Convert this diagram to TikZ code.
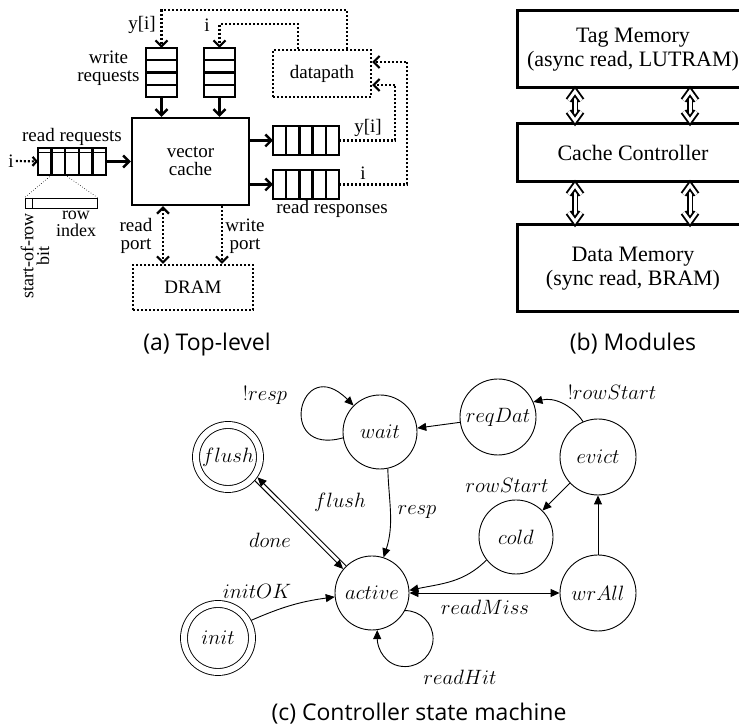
\documentclass[tikz,border=0pt]{standalone}
\usepackage{fontspec}
\setmainfont{Liberation Serif}
\newfontfamily\capfont{Open Sans}
\usetikzlibrary{arrows.meta,calc}

\begin{document}
\begin{tikzpicture}[x=1pt,y=1pt,
  thk/.style={line width=2.4pt},
  dotl/.style={line width=2.2pt, dash pattern=on 2pt off 2pt},
  barbend/.style={-{Straight Barb[length=6pt,width=12pt]}},
  barbboth/.style={{Straight Barb[length=6pt,width=12pt]}-{Straight Barb[length=6pt,width=12pt]}},
  lbl/.style={font=\fontsize{19}{18}\selectfont, inner sep=0pt, align=center},
  smalllbl/.style={font=\fontsize{18}{16}\selectfont, inner sep=0pt, align=center},
  queue/.style={draw, thk, inner sep=0pt, outer sep=0pt},
  box/.style={draw, thk, inner sep=0pt},
  dotbox/.style={draw, dotl, inner sep=0pt},
  modbox/.style={draw, line width=3pt, minimum width=232pt, inner sep=0pt, align=center,
                 font=\fontsize{22}{24}\selectfont},
  dblline/.style={double, double distance=3pt, line width=1.9pt},
  dblhead/.style={dblline, line join=miter, line cap=butt},
  state/.style={circle, draw, line width=0.9pt, minimum size=74pt, inner sep=0pt,
                font=\fontsize{21}{25}\selectfont},
  accept/.style={state, double, double distance=6pt, outer sep=3.5pt},
  tr/.style={line width=0.9pt, -{Triangle[length=9pt,width=8pt]}},
  trboth/.style={line width=0.9pt, {Triangle[length=9pt,width=8pt]}-{Triangle[length=9pt,width=8pt]}},
  elbl/.style={font=\fontsize{21}{25}\selectfont, inner sep=0pt},
  caption/.style={font=\capfont\fontsize{23}{27}\selectfont, inner sep=0pt, anchor=base}
]
\useasboundingbox (0,0) rectangle (739,727);

% ---------- (a) top-level ----------
\node[box, lbl, minimum width=117pt, minimum height=87pt] (cache) at (190.5,565.5) {vector\\cache};

% write request queues
\node[queue, minimum width=31pt, minimum height=49pt] (wq1) at (161.5,654.5) {};
\node[queue, minimum width=31pt, minimum height=49pt] (wq2) at (219.5,654.5) {};
\foreach \q in {wq1,wq2}
  \foreach \k in {1,2,3}
    \draw[thk] ($(\q.south west)!\k/4!(\q.north west)$) -- ($(\q.south east)!\k/4!(\q.north east)$);
\draw[thk,barbend] (wq1.south) -- (wq1.south |- cache.north);
\draw[thk,barbend] (wq2.south) -- (wq2.south |- cache.north);
\node[lbl] (wrlbl) at (108.5,659) {write\\requests};

% read request queue
\node[queue, minimum width=68pt, minimum height=27pt] (rq) at (72,565.5) {};
\foreach \k in {1,2,3,4}
  \draw[thk] ($(rq.south west)!\k/5!(rq.south east)$) -- ($(rq.north west)!\k/5!(rq.north east)$);
\draw[line width=0.7pt] ($(rq.north west)+(0,-4)$) -- ($(rq.north east)+(0,-4)$);
\draw[thk,barbend] (rq.east) -- (cache.west |- rq.east);
\node[lbl] (rdlbl) at (72,590) {read requests};
\node[lbl] (inrq) at (11,566) {i};
\draw[dotl,-{Straight Barb[length=4pt,width=9pt]}] ([xshift=2pt]inrq.east) -- (rq.west);

% request entry format
\node[draw, line width=0.8pt, minimum width=72pt, minimum height=10pt, inner sep=0pt] (bar) at (61,524) {};
\draw[line width=0.8pt] ($(bar.north west)+(8,0)$) -- ($(bar.south west)+(8,0)$);
\draw[line width=0.6pt, dotted] ($(rq.south west)!0.2!(rq.south east)$) -- (bar.north west);
\draw[line width=0.6pt, dotted] ($(rq.south west)!0.4!(rq.south east)$) -- (bar.north east);
\node[smalllbl, font=\fontsize{18}{17}\selectfont] (rowidx) at (76,503) {row\\index};
\node[smalllbl, rotate=90] (sorb) at (35,471) {start-of-row\\bit};

% read response queues
\node[queue, minimum width=66pt, minimum height=29pt] (rr1) at (306,586.5) {};
\node[queue, minimum width=66pt, minimum height=29pt] (rr2) at (306,542.5) {};
\foreach \q in {rr1,rr2}
  \foreach \k in {1,2,3,4}
    \draw[thk] ($(\q.south west)!\k/5!(\q.south east)$) -- ($(\q.north west)!\k/5!(\q.north east)$);
\draw[thk,barbend] (cache.east |- rr1.west) -- (rr1.west);
\draw[thk,barbend] (cache.east |- rr2.west) -- (rr2.west);
\node[lbl] (rresp) at (332,518) {read responses};

% datapath and its feedback paths
\node[dotbox, lbl, minimum width=98pt, minimum height=47pt] (dp) at (322,653.5) {datapath};
\coordinate (yiTurn) at (161.5,717);
\coordinate (iTurn) at (219.5,703);
\draw[dotl,barbend] ([xshift=25pt]dp.north) |- (yiTurn) -- (wq1.north);
\draw[dotl,barbend] ([xshift=-24pt]dp.north) |- (iTurn) -- (wq2.north);
\node[lbl] (yiw) at (142,702) {y[i]};
\node[lbl] (iw) at (207,702) {i};
\coordinate (r1Turn) at (395,586.5);
\coordinate (r2Turn) at (407,542.5);
\draw[dotl,barbend] (rr1.east) -- (r1Turn) |- ([yshift=-11.5pt]dp.east);
\draw[dotl,barbend] (rr2.east) -- (r2Turn) |- ([yshift=11.5pt]dp.east);
\node[lbl] (yir) at (368,599) {y[i]};
\node[lbl] (ir) at (363,554) {i};

% DRAM ports
\node[dotbox, lbl, minimum width=120pt, minimum height=45pt] (dram) at (193,439.5) {DRAM};
\coordinate (rpTop) at ([xshift=-27.5pt]cache.south);
\coordinate (wpTop) at ([xshift=31.5pt]cache.south);
\draw[dotl,barbboth] (rpTop) -- (rpTop |- dram.north);
\draw[dotl,barbend] (wpTop) -- (wpTop |- dram.north);
\node[lbl] (rplbl) at (136,491) {read\\port};
\node[lbl] (wplbl) at (245,491) {write\\port};

\node[caption] (capa) at (207,376) {(a) Top-level};

% ---------- (b) modules ----------
\node[modbox, minimum height=77pt] (tag) at (633,677.5) {Tag Memory\\(async read, LUTRAM)};
\node[modbox, minimum height=58pt] (ctrl) at (633,574) {Cache Controller};
\node[modbox, minimum height=87pt] (dmem) at (633,458.5) {Data Memory\\(sync read, BRAM)};
% two-way double-line links with open heads
\foreach \dx in {-58,57} {
  \foreach \upper/\lower in {tag/ctrl, ctrl/dmem} {
    \coordinate (hu) at ([xshift=\dx pt, yshift=-2pt]\upper.south);
    \coordinate (hl) at ([xshift=\dx pt, yshift=2pt]\lower.north);
    \draw[dblline] ([yshift=-3pt]hu) -- ([yshift=3pt]hl);
    \draw[dblhead] ($(hu)+(-6.5,-9)$) -- (hu) -- ($(hu)+(6.5,-9)$);
    \draw[dblhead] ($(hl)+(-6.5,9)$) -- (hl) -- ($(hl)+(6.5,9)$);
  }
}

\node[caption] (capb) at (633,376) {(b) Modules};

% ---------- (c) controller state machine ----------
\node[state] (wait) at (380,295) {$wait$};
\node[accept, minimum size=64pt] (flush) at (228,270) {$flush$};
\node[state, minimum size=76pt] (reqDat) at (498,310) {$reqDat$};
\node[state, minimum size=76pt] (evict) at (598,270) {$evict$};
\node[state] (cold) at (516,190) {$cold$};
\node[state, minimum size=76pt] (wrAll) at (598,134) {$wrAll$};
\node[state] (active) at (372,134) {$active$};
\node[accept, minimum size=68pt] (init) at (218,89) {$init$};

\draw[tr] (wait.189) .. controls +(-68,-19) and +(-54,54) .. (wait.135);
\node[elbl] (lresp1) at (265,332) {$!resp$};

\draw[tr] (wait.-78) to[out=-88,in=72] (active.72);
\node[elbl] (lresp2) at (417,215) {$resp$};

\draw[tr] ([shift={(1.5,1.5)}]active.137) -- ([shift={(1.5,1.5)}]flush.-38);
\draw[tr] ([shift={(-1.5,-1.5)}]flush.-38) -- ([shift={(-1.5,-1.5)}]active.137);
\node[elbl] (lflush) at (340,225) {$flush$};
\node[elbl] (ldone) at (270,187) {$done$};

\draw[tr] (init.28) to[bend left=8] (active.186);
\node[elbl] (linit) at (257,136) {$initOK$};

\draw[tr] (active.-28) arc[start angle=90, end angle=-90, radius=28pt]
  .. controls +(-20,0) and +(0,-18) .. (active.-82);
\node[elbl] (lhit) at (460,50) {$readHit$};

\draw[trboth] (active.east) -- (wrAll.west);
\node[elbl] (lmiss) at (485,120) {$readMiss$};

\draw[tr] (cold.218) to[out=225,in=12] (active.4);
\draw[tr] (wrAll.north) -- (evict.south);
\draw[tr] (evict.223) -- (cold.45);
\node[elbl] (lrs) at (507,242) {$rowStart$};
\draw[tr] (evict.113) to[bend right=35] (reqDat.23);
\node[elbl] (lnrs) at (612,335) {$!rowStart$};
\draw[tr] (reqDat.188) -- (wait.6);

\node[caption] (capc) at (419,6) {(c) Controller state machine};
\end{tikzpicture}
\end{document}
